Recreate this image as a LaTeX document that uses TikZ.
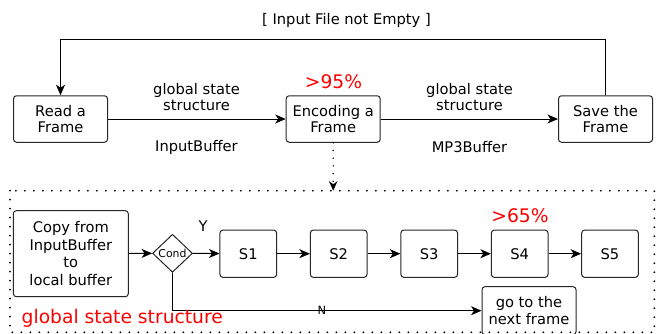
\documentclass[tikz,border=0pt]{standalone}
\usepackage{fontspec}
\setmainfont{DejaVu Sans}
\usetikzlibrary{shapes.geometric,arrows.meta}
\begin{document}
\begin{tikzpicture}[x=1pt,y=-1pt,
  box/.style={draw=black!85, line width=1pt, rounded corners=3pt, align=center, inner sep=0pt, font=\fontsize{14.67}{16.5}\selectfont},
  lbl/.style={align=center, inner sep=0pt, font=\fontsize{14.67}{16.5}\selectfont},
  redlbl/.style={text=red, inner sep=0pt, font=\fontsize{18.7}{22}\selectfont},
  arr/.style={line width=1pt, -{Stealth[length=10.5pt,width=9pt,inset=3pt]}},
  dotline/.style={line width=2pt, line cap=round, dash pattern=on 0pt off 9pt}
]
\useasboundingbox[fill=white] (0,0) rectangle (657,333);
\begin{scope}
\clip (0,0) rectangle (657,333);
% top row
\node[box, minimum width=94pt, minimum height=46.5pt] (read) at (60.5,119) {Read a\\Frame};
\node[box, minimum width=94pt, minimum height=46.5pt] (enc) at (333.2,119) {Encoding a\\Frame};
\node[box, minimum width=94pt, minimum height=46.5pt] (save) at (605.5,119) {Save the\\Frame};
\coordinate (loopR) at (605.5,39.3);
\coordinate (loopL) at (60.5,39.3);
\draw[arr] (save.north) -- (loopR) -- (loopL) -- (read.north);
\node[lbl] (cond1) at (346.5,20.5) {[ Input File not Empty ]};
\draw[arr] (read) -- (enc);
\draw[arr] (enc) -- (save);
\node[lbl] (gs1) at (196.5,97) {global state\\structure};
\node[lbl] (ib) at (196.5,147) {InputBuffer};
\node[lbl] (gs2) at (469.5,97) {global state\\structure};
\node[lbl] (mb) at (469.5,147) {MP3Buffer};
\node[redlbl] (p95) at (333.5,81.5) {>95\%};
% dotted frame
\draw[dotline] (10,190.7) rectangle (654.3,332.3);
\coordinate (boxtop) at (333.2,190.7);
\draw[line width=1.6pt, line cap=round, dash pattern=on 0pt off 7.7pt, -{Stealth[length=9.5pt,width=8.5pt,inset=3pt]}] (enc.south) -- (boxtop);
% inner row
\node[box, minimum width=115pt, minimum height=86pt, font=\fontsize{14.67}{17.6}\selectfont] (copy) at (70.8,253.7) {Copy from\\InputBuffer\\to\\local buffer};
\node[diamond, draw=black!85, line width=1pt, minimum width=40pt, minimum height=38pt, inner sep=0pt, font=\fontsize{10.9}{13}\selectfont] (cond) at (172.5,253.3) {Cond};
\node[box, minimum width=56.7pt, minimum height=47.3pt] (s1) at (248.3,253.7) {S1};
\node[box, minimum width=56.7pt, minimum height=47.3pt] (s2) at (338.7,253.7) {S2};
\node[box, minimum width=56.7pt, minimum height=47.3pt] (s3) at (429.2,253.7) {S3};
\node[box, minimum width=56.7pt, minimum height=47.3pt] (s4) at (519.7,253.7) {S4};
\node[box, minimum width=56.7pt, minimum height=47.3pt] (s5) at (610,253.7) {S5};
\node[box, minimum width=94pt, minimum height=48pt] (goto) at (529,310.7) {go to the\\next frame};
\draw[arr] (copy) -- (cond);
\draw[arr] (cond) -- (s1);
\draw[arr] (s1) -- (s2);
\draw[arr] (s2) -- (s3);
\draw[arr] (s3) -- (s4);
\draw[arr] (s4) -- (s5);
\draw[arr] (cond.south) |- (goto.west);
\node[lbl] (ylbl) at (203,226) {Y};
\node[inner sep=0pt, font=\fontsize{11.4}{13}\selectfont] (nlbl) at (322,310) {N};
\node[redlbl] (p65) at (520,216) {>65\%};
\node[redlbl, anchor=base west] (gsr) at (21.5,323.3) {global state structure};
\end{scope}
\end{tikzpicture}
\end{document}
